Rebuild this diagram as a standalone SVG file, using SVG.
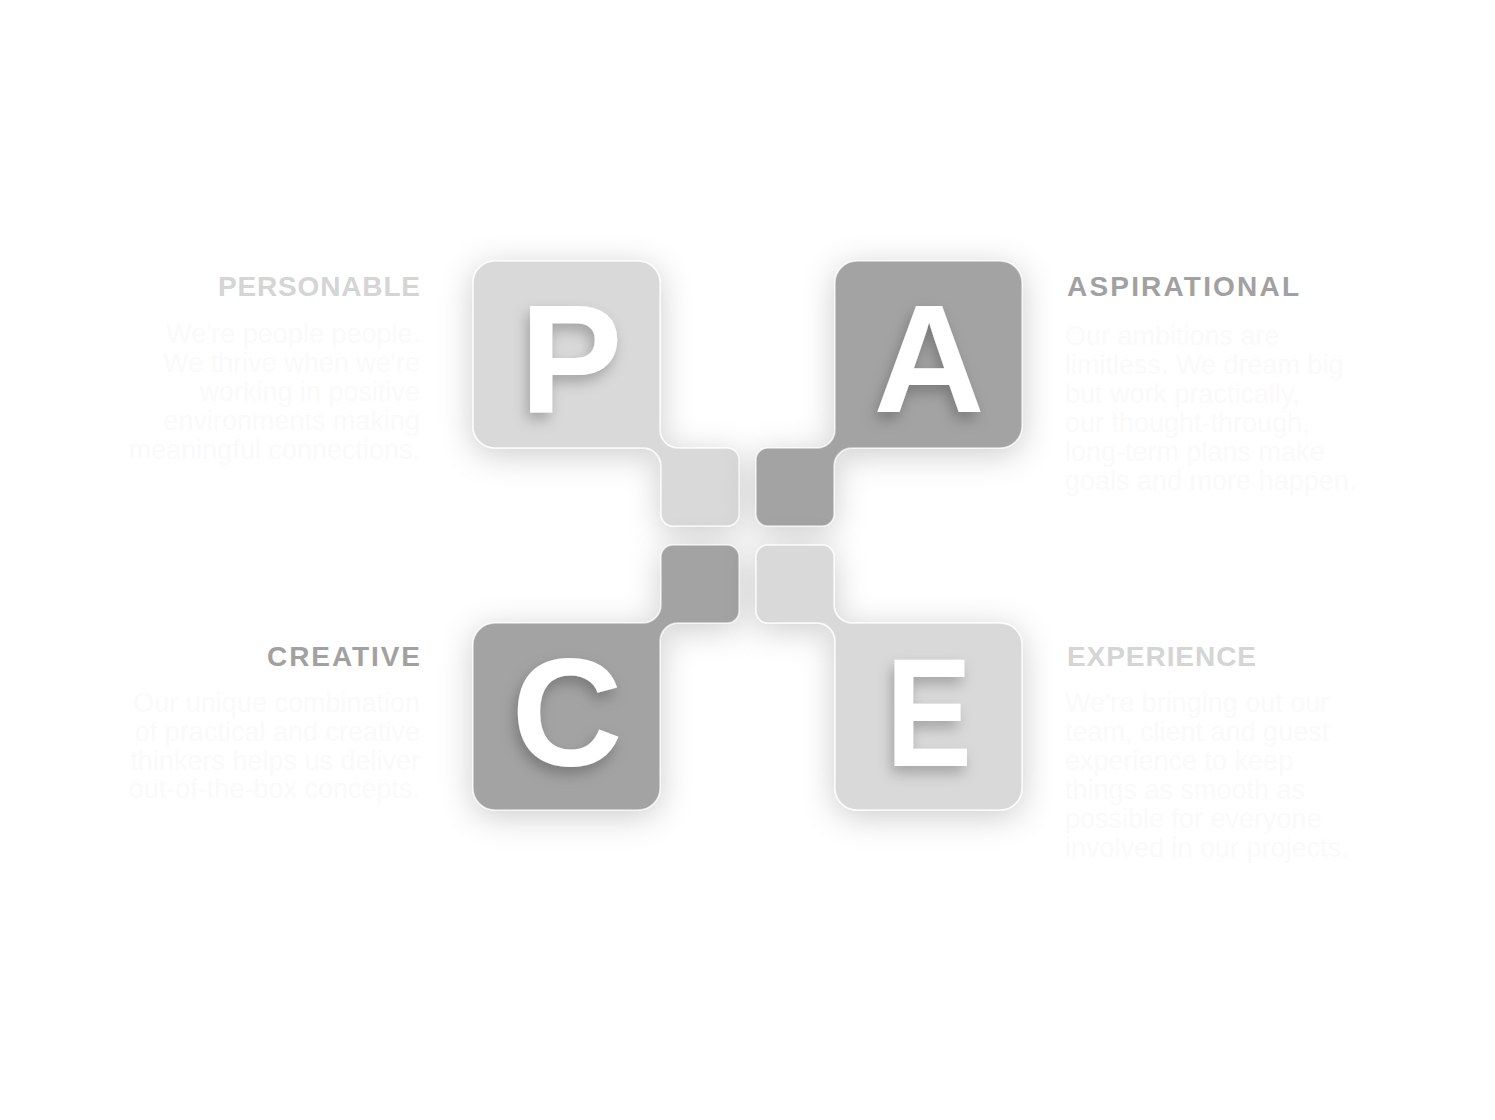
<svg xmlns="http://www.w3.org/2000/svg" width="1495" height="1120" viewBox="0 0 1495 1120">
<defs>
<filter id="tileShadow" x="-30%" y="-30%" width="160%" height="160%">
<feDropShadow dx="0" dy="6" stdDeviation="16" flood-color="#000" flood-opacity="0.2"/>
</filter>
<filter id="letterShadow" x="-30%" y="-30%" width="160%" height="160%">
<feDropShadow dx="-3" dy="7" stdDeviation="7" flood-color="#000" flood-opacity="0.25"/>
</filter>
</defs>
<style>
.light{fill:#d9d9d9;stroke:#ffffff;stroke-opacity:0.8;stroke-width:1.5}
.dark{fill:#a3a3a3;stroke:#ffffff;stroke-opacity:0.6;stroke-width:1.5}
.letter{font-family:"Liberation Sans",Arial,sans-serif;font-weight:700;font-size:154px;fill:#ffffff;text-anchor:middle}
.label{font-family:"Liberation Sans",Arial,sans-serif;font-weight:700;font-size:28px}
.lbl-light{fill:#d5d5d5}
.lbl-dark{fill:#a1a1a1}
.body{font-family:"Liberation Sans",Arial,sans-serif;font-size:27px;fill:#fafafa}
.end{text-anchor:end}
</style>
<rect width="1495" height="1120" fill="#ffffff"/>

<g id="connectors"></g>

<g id="node-p">
<path class="light" filter="url(#tileShadow)" d="M495,261 H638 A22,22 0 0 1 660,283 V430 A18,18 0 0 0 678,448 H727 A12,12 0 0 1 739,460 V514 A12,12 0 0 1 727,526 H673 A12,12 0 0 1 661,514 V466 A18,18 0 0 0 643,448 H495 A22,22 0 0 1 473,426 V283 A22,22 0 0 1 495,261 Z"/>
<text class="letter" x="571" y="412" filter="url(#letterShadow)">P</text>
<text class="label lbl-light" x="218" y="296" textLength="202" lengthAdjust="spacing">PERSONABLE</text>
<text class="body end" x="420" y="343">We're people people.</text>
<text class="body end" x="420" y="372">We thrive when we're</text>
<text class="body end" x="420" y="401">working in positive</text>
<text class="body end" x="420" y="430">environments making</text>
<text class="body end" x="420" y="459">meaningful connections.</text>
</g>

<g id="node-a">
<path class="dark" filter="url(#tileShadow)" d="M857,261 H1000 A22,22 0 0 1 1022,283 V426 A22,22 0 0 1 1000,448 H852 A18,18 0 0 0 834,466 V514 A12,12 0 0 1 822,526 H768 A12,12 0 0 1 756,514 V460 A12,12 0 0 1 768,448 H817 A18,18 0 0 0 835,430 V283 A22,22 0 0 1 857,261 Z"/>
<text class="letter" x="929" y="412" filter="url(#letterShadow)">A</text>
<text class="label lbl-dark" x="1067" y="296" textLength="232" lengthAdjust="spacing">ASPIRATIONAL</text>
<text class="body" x="1065" y="345">Our ambitions are</text>
<text class="body" x="1065" y="374">limitless. We dream big</text>
<text class="body" x="1065" y="403">but work practically,</text>
<text class="body" x="1065" y="432">our thought-through,</text>
<text class="body" x="1065" y="461">long-term plans make</text>
<text class="body" x="1065" y="490">goals and more happen.</text>
</g>

<g id="node-c">
<path class="dark" filter="url(#tileShadow)" d="M495,623 H643 A18,18 0 0 0 661,605 V557 A12,12 0 0 1 673,545 H727 A12,12 0 0 1 739,557 V611 A12,12 0 0 1 727,623 H678 A18,18 0 0 0 660,641 V788 A22,22 0 0 1 638,810 H495 A22,22 0 0 1 473,788 V645 A22,22 0 0 1 495,623 Z"/>
<text class="letter" x="567" y="766" filter="url(#letterShadow)">C</text>
<text class="label lbl-dark" x="267" y="666" textLength="153" lengthAdjust="spacing">CREATIVE</text>
<text class="body end" x="420" y="712">Our unique combination</text>
<text class="body end" x="420" y="741">of practical and creative</text>
<text class="body end" x="420" y="770">thinkers helps us deliver</text>
<text class="body end" x="420" y="798">out-of-the-box concepts.</text>
</g>

<g id="node-e">
<path class="light" filter="url(#tileShadow)" d="M768,545 H822 A12,12 0 0 1 834,557 V605 A18,18 0 0 0 852,623 H1000 A22,22 0 0 1 1022,645 V788 A22,22 0 0 1 1000,810 H857 A22,22 0 0 1 835,788 V641 A18,18 0 0 0 817,623 H768 A12,12 0 0 1 756,611 V557 A12,12 0 0 1 768,545 Z"/>
<text class="letter" x="929" y="766" textLength="86" lengthAdjust="spacingAndGlyphs" filter="url(#letterShadow)">E</text>
<text class="label lbl-light" x="1067" y="666" textLength="189" lengthAdjust="spacing">EXPERIENCE</text>
<text class="body" x="1065" y="712">We're bringing out our</text>
<text class="body" x="1065" y="741">team, client and guest</text>
<text class="body" x="1065" y="770">experience to keep</text>
<text class="body" x="1065" y="799">things as smooth as</text>
<text class="body" x="1065" y="828">possible for everyone</text>
<text class="body" x="1065" y="857">involved in our projects.</text>
</g>
</svg>
